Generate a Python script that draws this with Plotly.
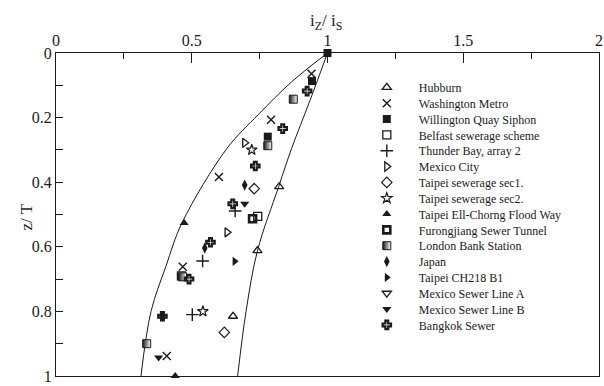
import plotly.graph_objects as go

# ---------------- data ----------------
series_names = [
    "Hubburn", "Washington Metro", "Willington Quay Siphon", "Belfast sewerage scheme",
    "Thunder Bay, array 2", "Mexico City", "Taipei sewerage sec1.", "Taipei sewerage sec2.",
    "Taipei Ell-Chorng Flood Way", "Furongjiang Sewer Tunnel", "London Bank Station", "Japan",
    "Taipei CH218 B1", "Mexico Sewer Line A", "Mexico Sewer Line B", "Bangkok Sewer",
]

hubburn_x = [0.822, 0.742, 0.652]
hubburn_z = [0.414, 0.612, 0.815]
washington_x = [0.941, 0.792, 0.600, 0.467, 0.408]
washington_z = [0.064, 0.207, 0.384, 0.662, 0.938]
willington_x = [1.000, 0.943, 0.780]
willington_z = [0.000, 0.087, 0.259]
belfast_x = [0.743, 0.462]
belfast_z = [0.506, 0.690]
thunder_x = [0.660, 0.540, 0.502]
thunder_z = [0.489, 0.644, 0.810]
mexico_city_x = [0.695, 0.630]
mexico_city_z = [0.278, 0.555]
taipei1_x = [0.730, 0.620]
taipei1_z = [0.420, 0.865]
taipei2_x = [0.721, 0.541]
taipei2_z = [0.300, 0.800]
ellchorng_x = [0.472, 0.439]
ellchorng_z = [0.526, 1.000]
furong_x = [0.724]
furong_z = [0.513]
london_x = [0.874, 0.780, 0.466, 0.334]
london_z = [0.143, 0.287, 0.693, 0.900]
japan_x = [0.695, 0.548, 0.392]
japan_z = [0.409, 0.604, 0.815]
ch218_x = [0.658]
ch218_z = [0.645]
mexico_a_x = [None]
mexico_a_z = [None]
mexico_b_x = [0.695, 0.378]
mexico_b_z = [0.467, 0.943]
bangkok_x = [0.925, 0.835, 0.734, 0.651, 0.569, 0.490, 0.392]
bangkok_z = [0.118, 0.234, 0.350, 0.467, 0.586, 0.700, 0.815]

# envelope curves
left_curve_x = [1.000, 0.867, 0.746, 0.630, 0.464, 0.405, 0.350, 0.313]
left_curve_z = [0.000, 0.090, 0.190, 0.295, 0.526, 0.660, 0.800, 1.000]
right_curve_x = [1.000, 0.935, 0.868, 0.820, 0.742, 0.700, 0.669]
right_curve_z = [0.000, 0.148, 0.295, 0.414, 0.612, 0.800, 1.000]

x_tick_vals = [0, 0.5, 1, 1.5, 2]
x_tick_text = ["0", "0.5", "1", "1.5", "2"]
y_tick_vals = [0, 0.2, 0.4, 0.6, 0.8, 1]
y_tick_text = ["0", "0.2", "0.4", "0.6", "0.8", "1"]

# ---------------- styling ----------------
FONT = "Liberation Serif"
INK = "#1a1a1a"

xs = [hubburn_x, washington_x, willington_x, belfast_x, thunder_x, mexico_city_x, taipei1_x,
      taipei2_x, ellchorng_x, furong_x, london_x, japan_x, ch218_x, mexico_a_x, mexico_b_x, bangkok_x]
zs = [hubburn_z, washington_z, willington_z, belfast_z, thunder_z, mexico_city_z, taipei1_z,
      taipei2_z, ellchorng_z, furong_z, london_z, japan_z, ch218_z, mexico_a_z, mexico_b_z, bangkok_z]

marker_styles = [
    dict(symbol="triangle-up-open", size=8, line=dict(width=1.3, color=INK)),
    dict(symbol="x-thin-open", size=8, line=dict(width=1.4, color=INK)),
    dict(symbol="square", size=8, line=dict(width=0, color=INK)),
    dict(symbol="square-open", size=8, line=dict(width=1.3, color=INK)),
    dict(symbol="cross-thin-open", size=9, line=dict(width=1.4, color=INK)),
    dict(symbol="triangle-right-open", size=8, line=dict(width=1.3, color=INK)),
    dict(symbol="diamond-open", size=8, line=dict(width=1.2, color=INK)),
    dict(symbol="star-open", size=8, line=dict(width=1.2, color=INK)),
    dict(symbol="triangle-up", size=8, line=dict(width=0, color=INK)),
    dict(symbol="square-open", size=7, line=dict(width=2.6, color=INK)),
    dict(symbol="square", size=8, line=dict(width=1, color=INK),
         gradient=dict(type="horizontal", color="white")),
    dict(symbol="diamond-tall", size=8, line=dict(width=0, color=INK)),
    dict(symbol="triangle-right", size=8, line=dict(width=0, color=INK)),
    dict(symbol="triangle-down-open", size=8, line=dict(width=1.3, color=INK)),
    dict(symbol="triangle-down", size=8, line=dict(width=0, color=INK)),
    dict(symbol="cross-open", size=7, line=dict(width=2.2, color=INK)),
]

fig = go.Figure()

# envelope lines
for cx, cz in [(left_curve_x, left_curve_z), (right_curve_x, right_curve_z)]:
    fig.add_trace(go.Scatter(x=cx, y=cz, mode="lines", showlegend=False, hoverinfo="skip",
                             line=dict(color=INK, width=1, shape="spline", smoothing=1.0)))

# the page body margin is removed (see post_script), so the figure fills the window
FIG_W, FIG_H = 604, 386
plot_left, plot_right, plot_top, plot_bottom = 56, 603, 53, 382
W = plot_right - plot_left
H = plot_bottom - plot_top

# one legend per series so rows can sit 16 px apart as in the reference
first_row_px = 88
row_step_px = 16.13
ITEMW = 54
legend_left_px = 389 - (5 + ITEMW / 2)

legend_layouts = {}
for i, (name, x, z, ms) in enumerate(zip(series_names, xs, zs, marker_styles)):
    lname = "legend" if i == 0 else f"legend{i + 1}"
    m = dict(color=INK)
    m.update(ms)
    fig.add_trace(go.Scatter(x=x, y=z, mode="markers", name=name, marker=m,
                             legend=lname, cliponaxis=False, showlegend=True))
    row_px = first_row_px + i * row_step_px
    legend_layouts[lname] = dict(
        x=(legend_left_px - plot_left) / W, y=1 - (row_px - plot_top) / H,
        xanchor="left", yanchor="middle", bgcolor="rgba(0,0,0,0)", borderwidth=0,
        itemwidth=ITEMW,
        font=dict(family=FONT, size=12, color=INK), itemclick=False, itemdoubleclick=False,
    )

fig.update_layout(
    width=FIG_W, height=FIG_H,
    margin=dict(l=plot_left, r=FIG_W - plot_right, t=plot_top, b=FIG_H - plot_bottom),
    paper_bgcolor="white", plot_bgcolor="white",
    font=dict(family=FONT, color=INK, size=16),
    showlegend=True,
    **legend_layouts,
)

fig.update_xaxes(
    side="top", range=[0, 2], tickvals=x_tick_vals, ticktext=x_tick_text,
    ticks="inside", ticklen=10, tickwidth=1, tickcolor=INK, ticklabeloverflow="allow",
    minor=dict(dtick=0.25, tick0=0, ticks="inside", ticklen=6, tickwidth=1, tickcolor=INK),
    showline=True, linecolor=INK, linewidth=1.2, mirror=True, showgrid=False, zeroline=False,
    tickfont=dict(family=FONT, size=16, color=INK),
)
fig.update_yaxes(
    range=[1, 0], tickvals=y_tick_vals, ticktext=y_tick_text,
    ticks="inside", ticklen=7, tickwidth=1, tickcolor=INK, ticklabeloverflow="allow",
    minor=dict(dtick=0.1, tick0=0, ticks="inside", ticklen=7, tickwidth=1, tickcolor=INK),
    showline=True, linecolor=INK, linewidth=1.2, mirror=True, showgrid=False, zeroline=False,
    tickfont=dict(family=FONT, size=16, color=INK),
)

fig.add_annotation(text="i<sub>Z</sub>/ i<sub>S</sub>", xref="paper", yref="paper",
                   x=(328 - plot_left) / W, y=1, yanchor="middle", yshift=31, showarrow=False,
                   font=dict(family=FONT, size=17, color=INK))
fig.add_annotation(text="z/ T", xref="paper", yref="paper", x=0, y=1 - (220 - plot_top) / H,
                   xshift=-41, textangle=-90, showarrow=False,
                   font=dict(family=FONT, size=17, color=INK))

fig.write_html(
    "out.html",
    config={"displayModeBar": False},
    post_script="document.body.style.margin='0';document.body.style.overflow='hidden';",
)
